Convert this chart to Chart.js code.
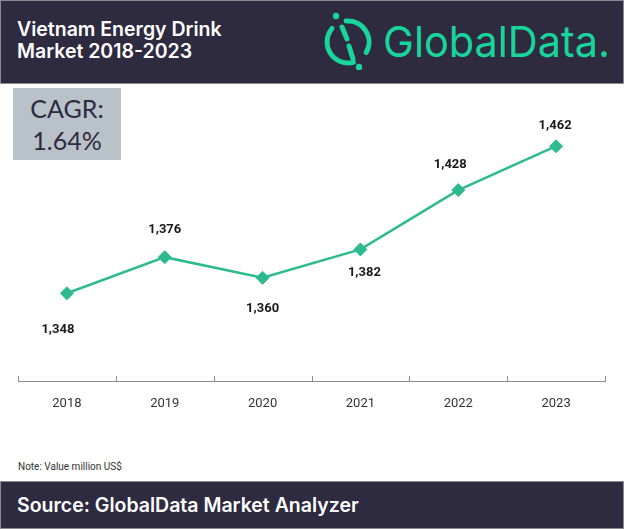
<!DOCTYPE html>
<html>
<head>
<meta charset="utf-8">
<script src="https://cdn.jsdelivr.net/npm/chart.js@4"></script>
<style>
  html, body { margin: 0; padding: 0; background: #fff; }
  #wrap { position: relative; width: 624px; height: 529px; overflow: hidden; font-family: Roboto, sans-serif; }
  #chart { position: absolute; left: 0; top: 0; }
  .band { position: absolute; left: 0; width: 622px; background: #2e2a3f; border: 1px solid #8a8a8f; }
  #header { top: 0; height: 82px; }
  #footer { top: 481px; height: 46px; }
  #title { position: absolute; left: 17px; top: 18px; color: #fff; font-family: Inter, Roboto, sans-serif; font-weight: 600; font-size: 19.5px; line-height: 22px; }
  #source { position: absolute; left: 17px; top: 493px; color: #fff; font-family: Inter, Roboto, sans-serif; font-weight: 600; font-size: 19.5px; line-height: 24px; }
  #note { position: absolute; left: 18px; top: 461px; color: #333; font-size: 10px; }
  #cagr { position: absolute; left: 13px; top: 88px; width: 108px; height: 72px; background: #b9c1c9; color: #2e2a3f;
          font-family: Lato, "Open Sans", sans-serif; font-size: 25px; line-height: 32px; text-align: center; padding-top: 4px; box-sizing: border-box; }
  #logo { position: absolute; left: 0; top: 0; }
</style>
</head>
<body>
<div id="wrap">
  <div class="band" id="header"></div>
  <div class="band" id="footer"></div>
  <div id="title">Vietnam Energy Drink<br>Market 2018-2023</div>
  <svg id="logo" width="624" height="84">
    <g fill="none" stroke="#19d49b" stroke-width="5" stroke-linecap="round">
      <path d="M 332 28.5 A 21 21 0 0 0 353.4 62.3" />
      <path d="M 346.2 21.1 A 21 21 0 0 1 366.2 52.5" />
      <line x1="342" y1="27" x2="347" y2="39" />
      <line x1="349" y1="46" x2="353" y2="59" />
    </g>
    <circle cx="336" cy="16" r="3.2" fill="#19d49b" />
    <circle cx="359" cy="67" r="3.2" fill="#19d49b" />
    <text x="383" y="57" font-family="Inter, Roboto, sans-serif" font-size="43" fill="#19d49b"
          textLength="227" lengthAdjust="spacingAndGlyphs">GlobalData.</text>
  </svg>
  <div id="cagr">CAGR:<br>1.64%</div>
  <div id="note">Note: Value million US$</div>
  <div id="source">Source: GlobalData Market Analyzer</div>
  <canvas id="chart" width="624" height="529"></canvas>
</div>
<script>
const years = ["2018", "2019", "2020", "2021", "2022", "2023"];
const marketValue = [1348, 1376, 1360, 1382, 1428, 1462];

// where each value label sits relative to its point (px)
const labelDx = [-9, 0, 0, 4, -8, -1];
const labelDy = [36, -27, 31, 23, -25, -20];

const valueLabels = {
  id: "valueLabels",
  afterDatasetsDraw(chart) {
    const ctx = chart.ctx;
    const meta = chart.getDatasetMeta(0);
    ctx.save();
    ctx.font = "bold 13px Roboto, sans-serif";
    ctx.fillStyle = "#1a1a1a";
    ctx.textAlign = "center";
    ctx.textBaseline = "middle";
    meta.data.forEach((pt, i) => {
      ctx.fillText(marketValue[i].toLocaleString("en-US"), pt.x + labelDx[i], pt.y + labelDy[i]);
    });
    ctx.restore();
  }
};

// small tick marks pointing up from the axis line, at the category edges
const upTicks = {
  id: "upTicks",
  afterDraw(chart) {
    const ctx = chart.ctx;
    const area = chart.chartArea;
    const n = years.length;
    ctx.save();
    ctx.strokeStyle = "#8c8c8c";
    ctx.lineWidth = 1;
    for (let i = 0; i <= n; i++) {
      const x = Math.round(area.left + i * (area.right - area.left) / n) + 0.5;
      ctx.beginPath();
      ctx.moveTo(x, area.bottom - 5);
      ctx.lineTo(x, area.bottom);
      ctx.stroke();
    }
    ctx.restore();
  }
};

new Chart(document.getElementById("chart").getContext("2d"), {
  type: "line",
  data: {
    labels: years,
    datasets: [
      {
        data: marketValue,
        borderColor: "#2dbb8e",
        backgroundColor: "#2dbb8e",
        borderWidth: 2.5,
        pointStyle: "rectRot",
        pointRadius: 6.5,
        pointBorderWidth: 1,
        tension: 0,
      },
    ],
  },
  options: {
    responsive: false,
    animation: false,
    layout: { padding: { left: 18, right: 19, top: 123, bottom: 0 } },
    plugins: { legend: { display: false }, tooltip: { enabled: false } },
    scales: {
      x: {
        offset: true,
        grid: { display: false, drawTicks: false },
        border: { display: true, color: "#8c8c8c", width: 1 },
        ticks: { color: "#333", font: { family: "Roboto, sans-serif", size: 13 }, padding: 15 },
        afterFit: (scale) => { scale.height = 148; },
      },
      y: { display: false, min: 1280, max: 1480 },
    },
  },
  plugins: [valueLabels, upTicks],
});
</script>
</body>
</html>
